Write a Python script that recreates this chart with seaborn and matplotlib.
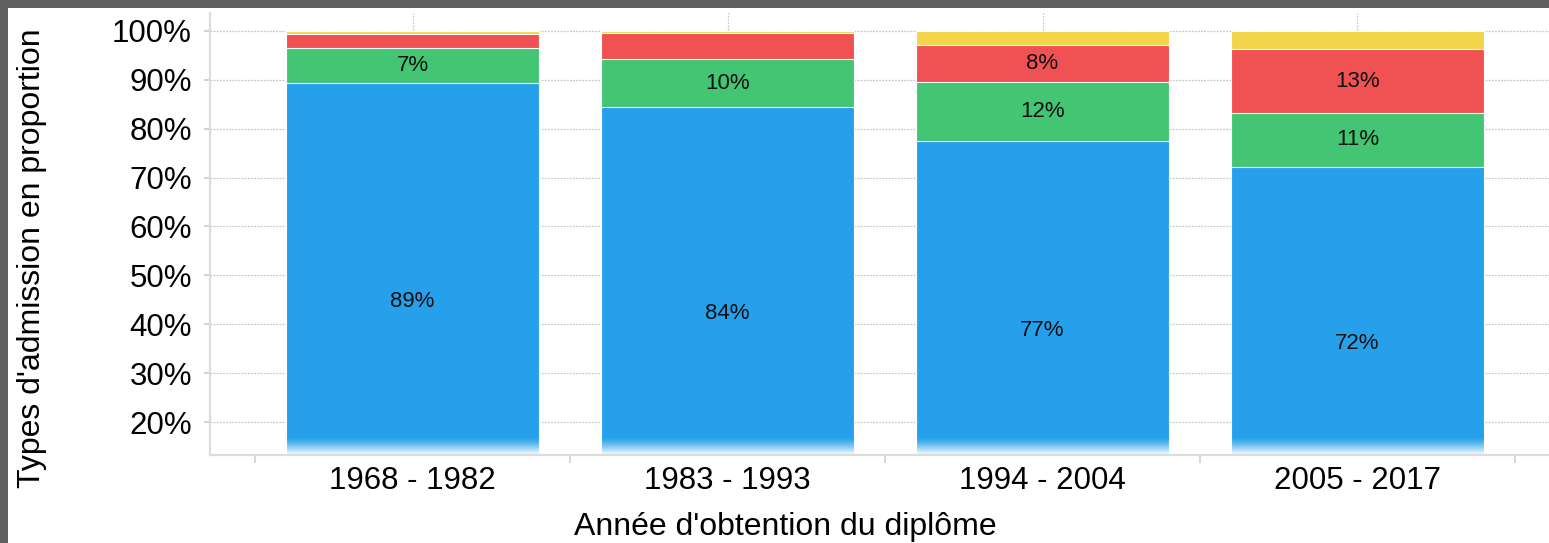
import matplotlib
matplotlib.use("Agg")
import matplotlib.pyplot as plt
from matplotlib.patches import Rectangle
from matplotlib.ticker import FixedLocator, PercentFormatter
import numpy as np
import pandas as pd
import seaborn as sns

# Données (en %)
periodes = ["1968 - 1982", "1983 - 1993", "1994 - 2004", "2005 - 2017"]
bleu = [89.4, 84.4, 77.4, 72.2]
vert = [7.2, 9.9, 12.1, 11.0]
rouge = [2.8, 5.2, 7.6, 13.1]
jaune = [0.6, 0.5, 2.9, 3.7]

couleurs = ["#26A0EA", "#44C574", "#F05152", "#F4D54A"]
series = [bleu, vert, rouge, jaune]

sns.set_theme(style="white")
plt.rcParams["font.family"] = ["Liberation Sans", "DejaVu Sans"]

fig = plt.figure(figsize=(15.49, 5.43), dpi=100)
ax = fig.add_axes([210 / 1549, 1 - 455 / 543, 1 - 210 / 1549, (455 - 13) / 543])

# barres empilées : on dessine les cumuls du haut vers le bas
cumuls = np.cumsum(np.array(series), axis=0)
for i in range(len(series) - 1, -1, -1):
    df = pd.DataFrame({"periode": periodes, "valeur": cumuls[i]})
    sns.barplot(data=df, x="periode", y="valeur", color=couleurs[i], width=0.803,
                edgecolor="white", linewidth=0.8, saturation=1, ax=ax, zorder=2)

# étiquettes des segments
for j in range(len(periodes)):
    bas = 0
    for i, s in enumerate(series):
        v = s[j]
        if v >= 6:
            ax.text(j, bas + v / 2, f"{round(v):.0f}%", ha="center", va="center",
                    fontsize=16, color="#111111", zorder=4)
        bas += v

# fondu blanc au bas des barres
grad = np.linspace(0, 1, 64).reshape(-1, 1)
rgba = np.ones((64, 1, 4))
rgba[..., 3] = grad ** 1.3
ax.imshow(rgba, extent=[0, 1, 0, 0.04], transform=ax.transAxes, aspect="auto",
          zorder=3, origin="upper", interpolation="bilinear")
ax.set_xlim(-0.643, 3.608)
ax.set_ylim(13.25, 103.68)

ax.yaxis.set_major_locator(FixedLocator(np.arange(20, 101, 10)))
ax.yaxis.set_major_formatter(PercentFormatter(decimals=0))
ax.xaxis.set_minor_locator(FixedLocator(np.arange(-0.5, 4, 1)))

ax.grid(True, which="major", axis="both", color="#c8c8c8", linestyle=(0, (1.5, 1)),
        linewidth=0.9, zorder=0)
ax.set_axisbelow(True)

for side in ["top", "right"]:
    ax.spines[side].set_visible(False)
for side in ["left", "bottom"]:
    ax.spines[side].set_color("#dcdcdc")
    ax.spines[side].set_linewidth(1.6)
    ax.spines[side].set_zorder(5)

ax.tick_params(axis="y", which="major", length=4, color="#cccccc", labelsize=22.5,
               labelcolor="black", pad=9, left=True)
ax.tick_params(axis="x", which="major", length=0, labelsize=22.5, labelcolor="black", pad=8)
ax.tick_params(axis="x", which="minor", length=6, width=1.2, color="#d0d0d0", bottom=True)

ax.set_xlabel("Année d'obtention du diplôme", fontsize=23, color="black")
ax.set_ylabel("Types d'admission en proportion", fontsize=23, color="black")
ax.xaxis.set_label_coords((785 - 210) / 1339, -0.13)
ax.yaxis.set_label_coords(-0.122, 0.446)

# cadre gris foncé en haut et à gauche
fig.patches.append(Rectangle((0, 1 - 8 / 543), 1, 8 / 543, transform=fig.transFigure,
                             facecolor="#5f5f5f", edgecolor="none", zorder=10))
fig.patches.append(Rectangle((0, 0), 8 / 1549, 1, transform=fig.transFigure,
                             facecolor="#5f5f5f", edgecolor="none", zorder=10))

fig.savefig("out.png", dpi=100)
